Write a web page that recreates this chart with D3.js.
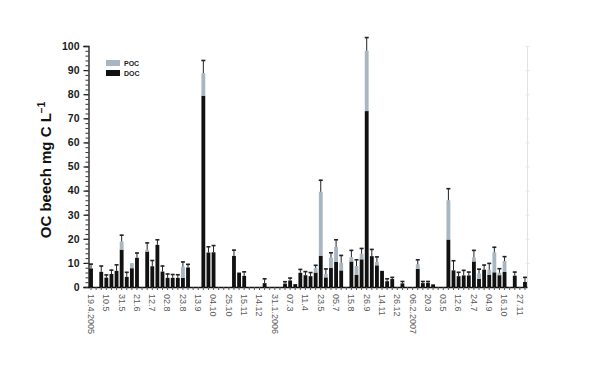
<!DOCTYPE html>
<html><head><meta charset="utf-8">
<script src="https://cdn.jsdelivr.net/npm/d3@7"></script>
<style>html,body{margin:0;padding:0;background:#fff;}</style>
</head><body>
<svg id="chart" width="600" height="371"></svg>
<script>
// Sampling events (categorical, one per bar slot)
const categories = Array.from({length: 86}, (_, i) => i);
// DOC (black) values, mg C/L
const doc = [7.7,0,6.3,3.9,5.4,6.7,15.5,4.2,7.8,12.1,
             0,14.7,8.6,17.5,6.4,3.8,3.8,3.8,3.8,8.1,
             0,0,79.4,14.3,14.4,0,0,0,12.9,6.0,
             4.6,0,0,0,1.6,0,0,0,1.4,2.7,
             1.2,5.9,4.9,4.5,6.0,13.0,4.0,8.0,10.4,6.9,
             0,10.6,5.1,11.5,73.0,12.8,9.0,6.7,2.4,3.3,
             0,1.5,0,0,7.5,1.6,1.7,1.1,0,0,
             19.7,6.9,4.5,4.8,4.8,10.6,3.4,7.2,5.1,6.1,
             4.9,6.3,0,4.7,0,2.1];
// POC (grey) values stacked on DOC
const poc = [0,0,0,0,0,0,3.4,0,2.1,0,
             0,0.8,0,0,0,0,0,0,4.6,0,
             0,0,9.3,0,0,0,0,0,0,0,
             0,0,0,0,0,0,0,0,0,0,
             0,0,0,0,1.8,26.5,1.4,4.2,6.2,3.2,
             0,1.8,3.6,2.3,25.0,0,1.4,0,0,0,
             0,0,0,0,1.9,0,0,0,0,0,
             16.3,0,0,0,0,1.7,2.2,0,2.0,8.3,
             1.0,4.5,0,0,0,0];
// Error (upper whisker length)
const err = [2.0,0,2.6,1.3,1.8,2.7,2.8,2.1,0,2.2,
             0,3.0,2.6,2.3,2.5,1.8,1.6,1.5,2.2,1.5,
             0,0,5.5,2.6,3.0,0,0,0,2.6,0,
             1.9,0,0,0,2.0,0,0,0,1.0,1.2,
             0,1.6,1.7,1.7,1.4,5.0,2.3,2.2,3.2,3.2,
             0,3.0,2.8,2.4,5.7,3.0,2.3,0,1.2,0.9,
             0,1.0,0,0,2.1,0.9,0.8,0,0,0,
             5.0,4.2,1.8,2.3,1.6,3.1,2.0,2.1,2.9,2.3,
             1.9,2.0,0,1.7,0,2.1];
// Tick labels, one every third sampling slot
const tickLabels = ["19.4.2005","10.5","31.5","21.6","12.7","02.8","23.8","13.9","04.10","25.10",
  "15.11","14.12","31.1.2006","07.3","11.4","23.5","05.7","15.8","26.9","14.11",
  "26.12","06.2.2007","20.3","03.5","12.6","24.7","04.9","16.10","27.11"];
const labelStep = 3;
const yTicks = [0,10,20,30,40,50,60,70,80,90,100];
const seriesNames = ["POC","DOC"];
const colors = {POC:"#a7b6c0", DOC:"#111111"};

const svg = d3.select("#chart");
const mLeft = 88.5, mRight = 527.5, mTop = 46, mBottom = 287;
const x = d3.scaleBand().domain(categories).range([mLeft, mRight]).paddingInner(0.25).paddingOuter(0.12);
const y = d3.scaleLinear().domain([0, 100]).range([mBottom, mTop]);

// faint right axis remnant
svg.append("line").attr("x1", mRight).attr("x2", mRight).attr("y1", y(100)).attr("y2", mBottom)
  .attr("stroke", "#e2e2e2").attr("stroke-width", 1);
svg.selectAll(".rt").data(yTicks.slice(1)).enter().append("line")
  .attr("x1", mRight - 2).attr("x2", mRight + 2).attr("y1", d => y(d) + 0.5).attr("y2", d => y(d) + 0.5)
  .attr("stroke", "#e6e6e6");

const data = categories.map((c, i) => ({c, doc: doc[i], poc: poc[i], err: err[i]}));

// DOC bars
svg.append("g").selectAll("rect").data(data.filter(d => d.doc > 0)).enter().append("rect")
  .attr("x", d => x(d.c)).attr("width", x.bandwidth())
  .attr("y", d => y(d.doc)).attr("height", d => y(0) - y(d.doc))
  .attr("fill", colors.DOC);
// POC bars
svg.append("g").selectAll("rect").data(data.filter(d => d.poc > 0)).enter().append("rect")
  .attr("x", d => x(d.c)).attr("width", x.bandwidth())
  .attr("y", d => y(d.doc + d.poc)).attr("height", d => y(d.doc) - y(d.doc + d.poc))
  .attr("fill", colors.POC);
// error bars
const eg = svg.append("g").attr("stroke", "#222").attr("stroke-width", 1);
data.filter(d => d.err > 0).forEach(d => {
  const cx = x(d.c) + x.bandwidth() / 2;
  const t = d.doc + d.poc;
  eg.append("line").attr("x1", cx).attr("x2", cx).attr("y1", y(t)).attr("y2", y(t + d.err));
  eg.append("line").attr("x1", cx - 2).attr("x2", cx + 2).attr("y1", y(t + d.err) + 0.5).attr("y2", y(t + d.err) + 0.5)
    .attr("stroke-width", 1.6);
});

// Y axis
const yAxis = d3.axisLeft(y).tickValues(yTicks).tickSize(5).tickPadding(4);
const yg = svg.append("g").attr("transform", `translate(${mLeft},0)`).call(yAxis);
yg.select(".domain").attr("stroke", "#111").attr("stroke-width", 1.3);
yg.selectAll(".tick line").attr("stroke", "#111").attr("stroke-width", 1.2);
yg.selectAll("text").attr("font-family", "Liberation Sans, Arial, sans-serif")
  .attr("font-size", 10.5).attr("font-weight", "bold").attr("fill", "#1a1a1a");
const yMinor = d3.axisLeft(y).tickValues(d3.range(0, 101, 2)).tickSize(3).tickFormat("");
const ym = svg.append("g").attr("transform", `translate(${mLeft},0)`).call(yMinor);
ym.select(".domain").remove();
ym.selectAll(".tick line").attr("stroke", "#333");

// X axis
const xAxis = d3.axisBottom(x).tickSize(3).tickPadding(5)
  .tickFormat((d, i) => (i % labelStep === 0 ? tickLabels[i / labelStep] : ""));
const xg = svg.append("g").attr("transform", `translate(0,${mBottom})`).call(xAxis);
xg.select(".domain").attr("stroke", "#111").attr("stroke-width", 1.3).attr("d", `M${mLeft},0.5H${mRight}`);
xg.selectAll(".tick line").attr("stroke", "#555");
xg.selectAll("text")
  .attr("font-family", "Liberation Sans, Arial, sans-serif").attr("font-size", 9)
  .attr("fill", "#5a5a5a").attr("text-anchor", "start")
  .attr("transform", "rotate(90)").attr("x", 7).attr("y", 0).attr("dy", "0.35em");

// Y title
svg.append("text").attr("transform", "translate(51,170) rotate(-90)")
  .attr("text-anchor", "middle").attr("font-family", "Liberation Sans, Arial, sans-serif")
  .attr("font-size", 15).attr("font-weight", "bold").attr("fill", "#111")
  .call(t => {
    t.append("tspan").text("OC beech mg C L");
    t.append("tspan").text("−1").attr("font-size", 10).attr("dy", -6);
  });

// Legend
const lg = svg.append("g");
seriesNames.forEach((s, i) => {
  lg.append("rect").attr("x", 106).attr("y", 60 + i * 10).attr("width", 14).attr("height", 6).attr("fill", colors[s]);
  lg.append("text").attr("x", 124).attr("y", 66 + i * 10).text(s)
    .attr("font-family", "Liberation Sans, Arial, sans-serif").attr("font-size", 7)
    .attr("font-weight", "bold").attr("fill", "#222");
});
</script>
</body></html>
